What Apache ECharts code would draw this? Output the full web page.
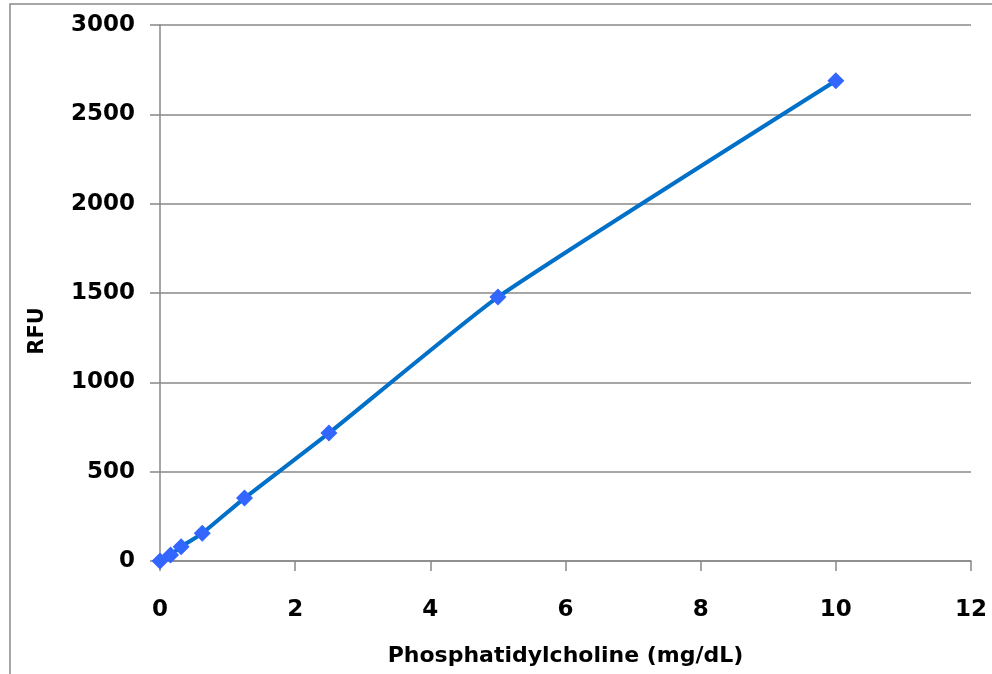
<!DOCTYPE html>
<html>
<head>
<meta charset="utf-8">
<script src="https://cdn.jsdelivr.net/npm/echarts@6/dist/echarts.min.js"></script>
<style>
html,body{margin:0;padding:0;background:#fff;}
#chart{width:992px;height:674px;}
</style>
</head>
<body>
<div id="chart"></div>
<script>
// Data
const concentration = [0, 0.156, 0.3125, 0.625, 1.25, 2.5, 5, 10];
const rfu = [0, 34, 80, 155, 352, 716, 1477, 2688];
const xTitle = 'Phosphatidylcholine (mg/dL)';
const yTitle = 'RFU';

const points = concentration.map((c, i) => [c, rfu[i]]);
const FONT = 'DejaVu Sans';
const chart = echarts.init(document.getElementById('chart'));
chart.setOption({
  animation: false,
  backgroundColor: '#fff',
  graphic: [{
    type: 'rect',
    shape: {x: 10, y: 4, width: 1100, height: 800},
    style: {fill: 'none', stroke: '#898989', lineWidth: 1.5},
    silent: true
  }],
  grid: {left: 160, right: 21, top: 25, bottom: 113, containLabel: false},
  xAxis: {
    type: 'value', min: 0, max: 12, interval: 2,
    name: xTitle, nameLocation: 'middle', nameGap: 84,
    nameTextStyle: {fontFamily: FONT, fontWeight: 'bold', fontSize: 22, color: '#000'},
    axisLine: {show: true, lineStyle: {color: '#888', width: 1.5}},
    axisTick: {show: true, length: 10, lineStyle: {color: '#888', width: 1.5}},
    axisLabel: {margin: 38, fontFamily: FONT, fontWeight: 'bold', fontSize: 23, color: '#000'},
    splitLine: {show: false}
  },
  yAxis: {
    type: 'value', min: 0, max: 3000, interval: 500,
    name: yTitle, nameLocation: 'middle', nameGap: 112, nameRotate: 90,
    nameTextStyle: {fontFamily: FONT, fontWeight: 'bold', fontSize: 21, color: '#000', padding: [0, 76, 0, 0]},
    axisLine: {show: true, lineStyle: {color: '#888', width: 1.5}},
    axisTick: {show: true, length: 10, lineStyle: {color: '#888', width: 1.5}},
    axisLabel: {margin: 25, fontFamily: FONT, fontWeight: 'bold', fontSize: 23, color: '#000',
      formatter: v => String(v)},
    splitLine: {show: true, lineStyle: {color: '#888', width: 1.5}}
  },
  series: [{
    type: 'line',
    data: points,
    smooth: 0.15,
    symbol: 'diamond',
    symbolSize: 17,
    lineStyle: {color: '#0070C8', width: 4},
    itemStyle: {color: '#3366FF'},
    z: 3
  }]
});
</script>
</body>
</html>
